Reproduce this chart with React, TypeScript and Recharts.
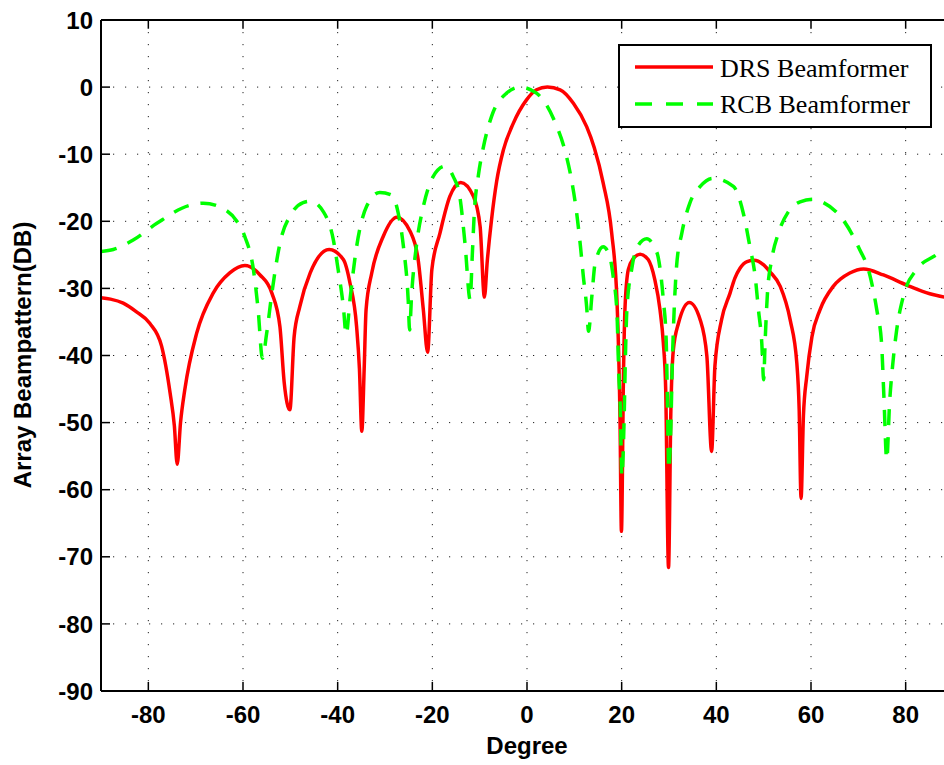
import { LineChart, Line, XAxis, YAxis, CartesianGrid, ReferenceLine, Legend } from 'recharts'

// DRS beamformer (red, solid)
const drsDeg = [
  -90, -88, -85.3, -82.5, -79.7, -77.2, -75.4, -74.5, -73.9, -73.2, -72.3, -69.8, -66.3, -62.8, -59.6,
  -56.4, -53.9, -52.2, -51.3, -50.1, -49.2, -48.0, -45.8, -41.8, -38.8, -37.4, -36.0, -35.4, -34.9,
  -34.4, -34.0, -32.8, -30.4, -27.5, -24.7, -23.0, -21.9, -21.0, -20.1, -18.4, -16.3, -14.0, -11.3,
  -9.9, -9.0, -8.4, -7.5, -6.4, -5.0, -2.9, -0.1, 2.0, 4.3, 7.0, 9.8, 12.6, 14.2, 16.1, 17.9, 19.0,
  19.65, 19.95, 20.4, 20.7, 21.4, 22.4, 23.9, 25.6, 27.0, 28.1, 28.8, 29.3, 29.9, 30.4, 30.9, 32.0,
  34.3, 36.6, 38.0, 39.0, 39.7, 41.1, 42.9, 43.9, 45.0, 46.5, 48.0, 50.0, 51.3, 53.5, 55.6, 57.0, 57.5,
  57.9, 58.4, 59.1, 60.2, 61.9, 64.7, 68.2, 71.1, 75.3, 80.2, 85.1, 90,
]
const drsDb = [
  -31.4, -31.6, -32.2, -33.5, -35.2, -38.6, -45.6, -50.5, -56.2, -50.0, -45.1, -36.7, -30.7, -27.7, -26.6,
  -28.0, -30.7, -35.7, -44.0, -48.1, -37.2, -32.7, -27.7, -24.2, -25.7, -29.2, -35.7, -42.0, -51.3,
  -42.0, -33.2, -27.7, -22.3, -19.4, -21.5, -25.7, -33.2, -39.5, -27.2, -21.8, -16.3, -14.2, -16.3,
  -20.8, -31.3, -26.0, -19.8, -14.0, -9.4, -5.4, -1.9, -0.4, 0, -0.4, -2.4, -5.9, -9.0, -14.3, -21.8, -31.7,
  -49.5, -66.2, -42.0, -33.0, -27.2, -25.6, -24.9, -25.7, -28.7, -33.2, -38.1, -45.0, -71.6, -48.0, -39.3, -35.2,
  -32.1, -34.7, -40.1, -54.3, -41.6, -34.7, -30.7, -28.5, -27.0, -26.0, -25.8, -26.5, -27.5, -29.7, -34.7, -41.1, -48.0,
  -61.3, -49.0, -43.1, -37.2, -33.2, -29.7, -27.7, -27.1, -28.0, -29.5, -30.8, -31.5,
]

// RCB beamformer (green, dashed)
const rcbDeg = [
  -90, -87.4, -83.2, -78.2, -71.2, -68.4, -64.2, -61.3, -59.6, -57.8, -56.8, -55.9, -55.0, -53.9, -52.2,
  -49.7, -47.3, -45.8, -43.0, -40.9, -39.9, -38.8, -38.2, -37.4, -36.0, -33.9, -31.1, -28.6, -27.2,
  -26.1, -25.1, -24.8, -24.4, -23.3, -21.9, -19.8, -17.3, -15.6, -14.2, -13.1, -12.0, -11.6, -11.1,
  -10.3, -9.2, -7.5, -4.3, -1.5, 2.0, 5.9, 8.0, 9.4, 10.5, 11.3, 11.9, 12.6, 13.0, 13.7, 14.4, 16.1,
  17.5, 18.2, 19.0, 19.4, 19.7, 20.05, 20.5, 20.8, 21.1, 22.1, 23.3, 25.3, 27.0, 27.7, 28.8, 29.4, 29.65,
  29.95, 30.4, 30.7, 30.9, 31.6, 32.7, 34.4, 36.6, 39.2, 43.6, 45.7, 47.1, 48.2, 48.9, 49.6, 50.0,
  50.3, 50.8, 51.7, 53.1, 55.2, 57.7, 60.5, 62.6, 66.8, 70.0, 72.5, 73.9, 74.9, 75.4, 76.0, 76.6,
  77.3, 78.1, 79.5, 82.3, 85.8, 88.0, 90,
]
const rcbDb = [
  -24.5, -24.2, -22.8, -20.3, -17.6, -17.3, -18.1, -20.0, -22.3, -27.2, -33.2, -40.4, -36.7, -30.7, -23.3,
  -18.8, -17.2, -17.0, -18.6, -22.8, -27.2, -32.7, -36.9, -31.7, -23.8, -17.8, -15.7, -16.1, -18.8,
  -23.8, -31.7, -36.2, -31.2, -23.3, -17.8, -13.3, -11.8, -13.3, -16.3, -23.3, -31.7, -25.7, -18.3,
  -13.3, -8.9, -4.4, -0.9, 0, -0.9, -5.2, -9.4, -13.8, -18.8, -23.8, -28.2, -32.7, -36.4, -31.2, -26.2, -23.8,
  -25.3, -28.2, -33.6, -43.0, -47.5, -58.0, -50.0, -40.0, -33.2, -27.2, -23.8, -22.6, -24.0, -25.3, -31.7, -37.6, -46.0,
  -57.0, -50.5, -41.0, -36.7, -26.7, -21.8, -17.3, -14.8, -13.6, -14.8, -18.8, -23.8, -28.2, -33.2, -38.1, -43.6,
  -38.1, -30.7, -25.7, -21.8, -18.6, -17.1, -16.7, -17.2, -19.8, -23.8, -28.2, -33.2, -38.1, -46.1, -55.5, -47.1,
  -41.1, -36.2, -31.2, -27.2, -25.3, -24.5, -24.3,
]

const xTicks = [-80, -60, -40, -20, 0, 20, 40, 60, 80]
const yTicks = [10, 0, -10, -20, -30, -40, -50, -60, -70, -80, -90]
const seriesNames = ['DRS Beamformer', 'RCB Beamformer']

const drsData = drsDeg.map((deg, i) => ({ deg, db: drsDb[i] }))
const rcbData = rcbDeg.map((deg, i) => ({ deg, db: rcbDb[i] }))

const FONT = 'Arial, "Liberation Sans", Helvetica, sans-serif'
const RED = '#ff0000'
const GREEN = '#00ff00'
const DASH = '16 12'

const XTick = ({ x, y, payload }: any) => (
  <g>
    <line x1={x} x2={x} y1={y - 15} y2={y - 24} stroke="#000" strokeWidth={1.5} />
    <text x={x} y={y} dy="0.71em" textAnchor="middle" fontFamily={FONT} fontWeight="bold" fontSize={24} fill="#000">
      {payload.value}
    </text>
  </g>
)

const YTick = ({ x, y, payload }: any) => (
  <g>
    <line x1={x + 8} x2={x + 17} y1={y} y2={y} stroke="#000" strokeWidth={1.5} />
    <text x={x} y={y} dy="0.36em" textAnchor="end" fontFamily={FONT} fontWeight="bold" fontSize={24} fill="#000">
      {payload.value}
    </text>
  </g>
)

const yLabel = () => (
  <text x={22} y={355} dy="0.36em" textAnchor="middle" transform="rotate(-90, 22, 355)"
    fontFamily={FONT} fontWeight="bold" fontSize={24} fill="#000">
    Array Beampattern(DB)
  </text>
)

const xLabel = () => (
  <text x={527} y={754} textAnchor="middle" fontFamily={FONT} fontWeight="bold" fontSize={24} fill="#000">
    Degree
  </text>
)

const LegendBox = () => (
  <svg width={314} height={84} style={{ display: 'block' }}>
    <rect x={1} y={1} width={312} height={82} fill="#fff" stroke="#000" strokeWidth={2} />
    <line x1={17} x2={95} y1={23} y2={23} stroke={RED} strokeWidth={3.5} />
    <line x1={17} x2={95} y1={60} y2={60} stroke={GREEN} strokeWidth={3.5} strokeDasharray="17 14" />
    <text x={102} y={33} fontFamily='"Liberation Serif", "Times New Roman", serif' fontSize={26} fill="#000">
      {seriesNames[0]}
    </text>
    <text x={102} y={69} fontFamily='"Liberation Serif", "Times New Roman", serif' fontSize={26} fill="#000">
      {seriesNames[1]}
    </text>
  </svg>
)

export default function App() {
  return (
    <div style={{ position: 'absolute', left: 0, top: 0, width: 944, height: 765, overflow: 'hidden', background: '#fff' }}>
      <LineChart width={970} height={765} margin={{ top: 20, right: 17, left: 0, bottom: 0 }}>
        <CartesianGrid stroke="#222" strokeDasharray="1.2 10.8" horizontalValues={yTicks} verticalValues={xTicks} />
        <XAxis
          type="number"
          dataKey="deg"
          domain={[-90, 90]}
          ticks={xTicks}
          allowDataOverflow
          height={74}
          tickSize={0}
          tickMargin={15}
          tick={<XTick />}
          axisLine={{ stroke: '#000', strokeWidth: 2 }}
          label={xLabel}
        />
        <YAxis
          type="number"
          dataKey="db"
          domain={[-90, 10]}
          ticks={yTicks}
          allowDataOverflow
          width={101}
          tickSize={0}
          tickMargin={8}
          tick={<YTick />}
          axisLine={{ stroke: '#000', strokeWidth: 2 }}
          label={yLabel}
        />
        <ReferenceLine y={10} stroke="#000" strokeWidth={2} />
        {xTicks.map((t) => (
          <ReferenceLine key={t} segment={[{ x: t, y: 10 }, { x: t, y: 8.7 }]} stroke="#000" strokeWidth={1.5} />
        ))}
        <Line
          data={drsData}
          dataKey="db"
          name={seriesNames[0]}
          type="monotone"
          stroke={RED}
          strokeWidth={3.5}
          dot={false}
          isAnimationActive={false}
        />
        <Line
          data={rcbData}
          dataKey="db"
          name={seriesNames[1]}
          type="monotone"
          stroke={GREEN}
          strokeWidth={3.5}
          strokeDasharray={DASH}
          dot={false}
          isAnimationActive={false}
        />
        <Legend
          layout="horizontal"
          verticalAlign="middle"
          align="center"
          content={<LegendBox />}
          wrapperStyle={{ position: 'absolute', left: 618, top: 44, width: 314, height: 84 }}
        />
      </LineChart>
    </div>
  )
}
